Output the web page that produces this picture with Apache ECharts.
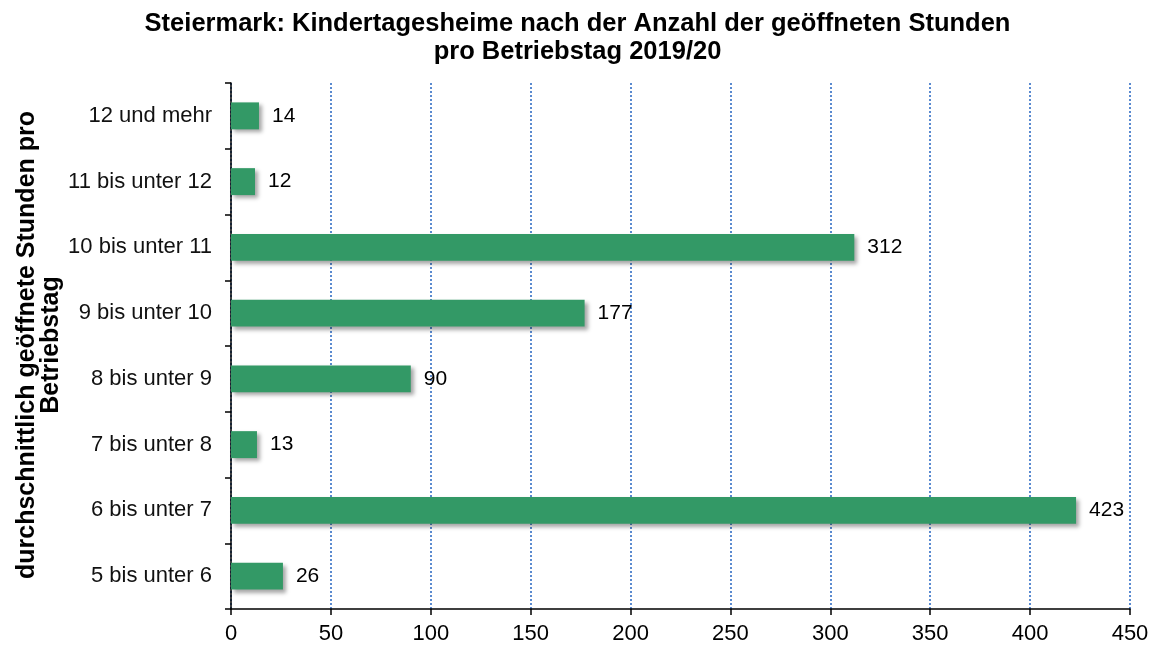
<!DOCTYPE html>
<html>
<head>
<meta charset="utf-8">
<script src="https://cdn.jsdelivr.net/npm/echarts@6/dist/echarts.min.js"></script>
<style>
    html, body { margin: 0; padding: 0; background: #fff; }
    #chart { width: 1155px; height: 648px; }
</style>
</head>
<body>
<div id="chart"></div>
<script>
// Kategorien von unten nach oben (ECharts zeichnet category-Achse von unten)
var categories = ["5 bis unter 6", "6 bis unter 7", "7 bis unter 8", "8 bis unter 9",
    "9 bis unter 10", "10 bis unter 11", "11 bis unter 12", "12 und mehr"];
var values = [26, 423, 13, 90, 177, 312, 12, 14];//Anzahl Kindertagesheime
var xTicks = [0, 50, 100, 150, 200, 250, 300, 350, 400, 450];

var titleText = "Steiermark: Kindertagesheime nach der Anzahl der geöffneten Stunden\npro Betriebstag 2019/20";
var yName = "durchschnittlich geöffnete Stunden pro\nBetriebstag";

var fontFam = "Liberation Sans, Arial, sans-serif";

var option = {
    animation: false,
    backgroundColor: "#ffffff",
    title: {
        text: titleText,
        left: "center",
        top: 5,
        textStyle: {
            fontFamily: fontFam,
            fontSize: 25.5,
            fontWeight: "bold",
            color: "#000",
            lineHeight: 28
        }
    },
    // Achsentitel der y-Achse (gedreht)
    graphic: [{
        type: "text",
        x: 39,
        y: 345,
        rotation: Math.PI / 2,
        style: {
            text: yName,
            fontFamily: fontFam,
            fontSize: 25,
            fontWeight: "bold",
            lineHeight: 24,
            fill: "#000",
            textAlign: "center",
            textVerticalAlign: "middle"
        }
    }],
    grid: {
        left: 231,
        right: 25,
        top: 83,
        bottom: 39
    },
    xAxis: {
        type: "value",
        min: xTicks[0],
        max: xTicks[xTicks.length - 1],
        interval: 50,
        axisLine: {show: true, lineStyle: {color: "#000", width: 1.5}},
        axisTick: {show: true, length: 6, lineStyle: {color: "#000", width: 1.5}},
        axisLabel: {
            fontFamily: fontFam,
            fontSize: 22,
            color: "#000",
            margin: 14
        },
        splitLine: {
            show: true,
            lineStyle: {color: "#5a8ad0", type: [2, 2], width: 2}
        }
    },
    yAxis: {
        type: "category",
        data: categories,
        axisLine: {show: true, lineStyle: {color: "#000", width: 1.5}},
        axisTick: {show: true, length: 6, inside: false, lineStyle: {color: "#000", width: 1.5}},
        axisLabel: {
            fontFamily: fontFam,
            fontSize: 22,
            color: "#111",
            margin: 19
        },
        splitLine: {show: false}
    },
    series: [{
        type: "bar",
        data: values,
        barWidth: "41%",
        itemStyle: {
            color: "#339966",
            shadowColor: "rgba(0,0,0,0.35)",
            shadowBlur: 4,
            shadowOffsetX: 3,
            shadowOffsetY: 3
        },
        label: {
            show: true,
            position: "right",
            distance: 13,
            fontFamily: fontFam,
            fontSize: 21,
            color: "#000"
        }
    }]
};

echarts.init(document.getElementById("chart")).setOption(option);
</script>
</body>
</html>
